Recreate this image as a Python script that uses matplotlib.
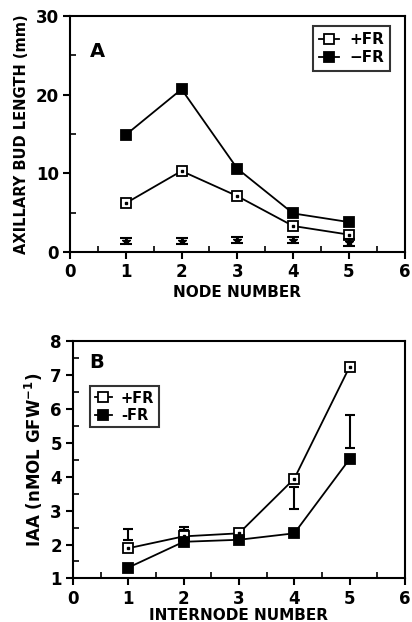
import numpy as np
import matplotlib
matplotlib.use("Agg")
import matplotlib.pyplot as plt
from matplotlib.ticker import MultipleLocator

plt.rcParams['font.family'] = ['DejaVu Sans']
plt.rcParams['font.weight'] = 'bold'

# Panel A data
node = [1, 2, 3, 4, 5]
bud_plus_fr = [6.2, 10.3, 7.1, 3.3, 2.2]
bud_minus_fr = [14.9, 20.7, 10.6, 4.9, 3.8]
bud_err_center = [1.4, 1.4, 1.5, 1.5, 1.2]
bud_err_half = [0.4, 0.4, 0.4, 0.4, 0.4]

# Panel B data
internode = [1, 2, 3, 4, 5]
iaa_plus_fr = [1.89, 2.24, 2.33, 3.94, 7.24]
iaa_minus_fr = [1.32, 2.08, 2.14, 2.33, 4.52]
iaa_err_x = [1, 2, 4, 5]
iaa_err_center = [2.30, 2.48, 3.37, 5.32]
iaa_err_half = [0.16, 0.05, 0.32, 0.49]

fig = plt.figure(figsize=(4.12, 6.22), dpi=100)
ax1 = fig.add_axes([0.170, 0.595, 0.812, 0.379])
ax2 = fig.add_axes([0.177, 0.070, 0.806, 0.382])


def style_axes(ax):
    for s in ax.spines.values():
        s.set_linewidth(1.5)
    ax.tick_params(which='major', direction='out', length=5, width=1.5,
                   labelsize=12, pad=3)
    ax.tick_params(which='minor', direction='in', length=4, width=1.2)
    for lab in ax.get_xticklabels() + ax.get_yticklabels():
        lab.set_fontweight('bold')


def draw_series(ax, x, y, filled, label):
    face = 'black' if filled else 'white'
    ax.plot(x, y, color='black', lw=1.3, marker='s', ms=7, mfc=face,
            mec='black', mew=1.3, label=label)
    if not filled:
        ax.plot(x, y, ls='none', marker='s', ms=1.5, color='black')


# Panel A
draw_series(ax1, node, bud_plus_fr, False, '+FR')
draw_series(ax1, node, bud_minus_fr, True, '\u2212FR')
ax1.errorbar(node, bud_err_center, yerr=bud_err_half, fmt='*', color='black',
             ms=6, capsize=4, elinewidth=1.5, capthick=1.5)
ax1.set_xlim(0, 6)
ax1.set_ylim(0, 30)
ax1.xaxis.set_major_locator(MultipleLocator(1))
ax1.xaxis.set_minor_locator(MultipleLocator(0.5))
ax1.yaxis.set_major_locator(MultipleLocator(10))
ax1.yaxis.set_minor_locator(MultipleLocator(5))
style_axes(ax1)
ax1.set_xlabel('NODE NUMBER', fontsize=11, fontweight='bold', labelpad=3)
ax1.set_ylabel('AXILLARY BUD LENGTH (mm)', fontsize=10.5, fontweight='bold',
               labelpad=5)
ax1.text(0.35, 25.5, 'A', fontsize=14, fontweight='bold', va='center')
leg1 = ax1.legend(loc='upper right', bbox_to_anchor=(0.98, 0.99), frameon=True,
                  fancybox=False, edgecolor='black', handlelength=1.3,
                  handletextpad=0.7, borderpad=0.4, labelspacing=0.2,
                  prop={'weight': 'bold', 'size': 11})
leg1.get_frame().set_linewidth(1.5)

# Panel B
draw_series(ax2, internode, iaa_plus_fr, False, '+FR')
draw_series(ax2, internode, iaa_minus_fr, True, '-FR')
ax2.errorbar(iaa_err_x, iaa_err_center, yerr=iaa_err_half, fmt='none',
             ecolor='black', capsize=3.5, elinewidth=1.5, capthick=1.5)
ax2.set_xlim(0, 6)
ax2.set_ylim(1, 8)
ax2.xaxis.set_major_locator(MultipleLocator(1))
ax2.xaxis.set_minor_locator(MultipleLocator(0.5))
ax2.yaxis.set_major_locator(MultipleLocator(1))
ax2.yaxis.set_minor_locator(MultipleLocator(0.5))
style_axes(ax2)
ax2.set_xlabel('INTERNODE NUMBER', fontsize=11, fontweight='bold', labelpad=0)
ax2.set_ylabel('IAA (nMOL GFW$^{\\mathbf{-1}}$)', fontsize=12,
               fontweight='bold', labelpad=4)
ax2.text(0.3, 7.35, 'B', fontsize=14, va='center')
leg2 = ax2.legend(loc='upper left', bbox_to_anchor=(0.03, 0.84), frameon=True,
                  fancybox=False, edgecolor='black', handlelength=1.2,
                  handletextpad=0.6, borderpad=0.3, labelspacing=0.15,
                  prop={'weight': 'bold', 'size': 10.5})
leg2.get_frame().set_linewidth(1.5)

fig.savefig('out.png', dpi=100)
